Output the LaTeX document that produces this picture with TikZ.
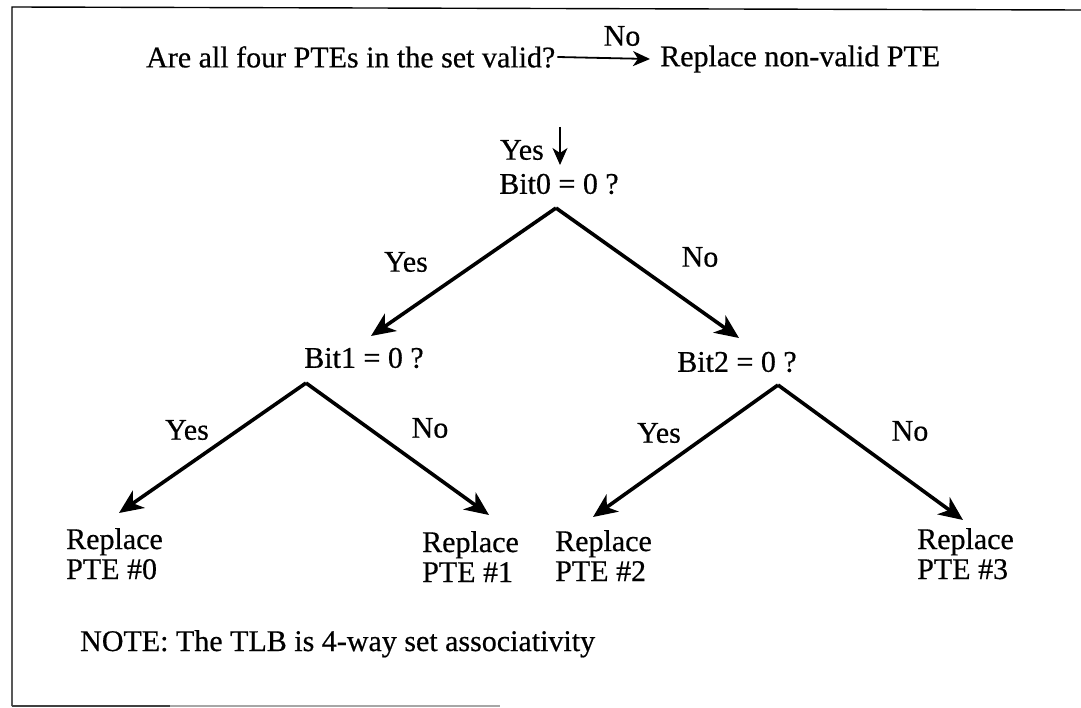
\documentclass[tikz,border=0pt]{standalone}
\usepackage{fontspec}
\setmainfont{Liberation Serif}[FakeBold=0.5]
\usetikzlibrary{arrows.meta}
\begin{document}
\begin{tikzpicture}[x=1pt,y=-1pt,
  txt/.style={inner sep=0pt,font=\fontsize{30}{30}\selectfont},
  leaf/.style={txt,anchor=north west,align=left},
  branch/.style={line width=3.6pt,-{Stealth[length=24pt,width=21pt,inset=7pt]}},
  thin arrow/.style={line width=1.8pt,-{Stealth[length=17pt,width=15pt,inset=5pt]}},
  frame/.style={line width=1.4pt}]
\useasboundingbox (0,0) rectangle (1081,708);
\fill[white] (0,0) rectangle (1081,708);

% open frame
\draw[frame] (12,706) -- (12,7) -- (1081,10);
\draw[frame,black!75] (12,706) -- (170,706);
\draw[frame,black!35] (170,706) -- (500,706);

% top question
\node[txt,anchor=west] (q0) at (146,57) {Are all four PTEs in the set valid?};
\node[txt,anchor=west] (rn) at (660,59) {Replace non-valid PTE};
\draw[thin arrow] ([xshift=2pt]q0.east) -- ([xshift=-10pt]rn.west);
\node[txt] (no0) at (622,36) {No};

% decision nodes
\node[txt] (b0) at (559,184) {Bit0 = 0 ?};
\node[txt] (b1) at (364,358) {Bit1 = 0 ?};
\node[txt] (b2) at (737,362) {Bit2 = 0 ?};

\coordinate (d0) at (560,127);
\coordinate (d1) at (560,165);
\draw[thin arrow] (d0) -- (d1);
\node[txt,anchor=east] (yes0) at (544,150) {Yes};

% branch points and arrow tips
\coordinate (a0) at (556,208);
\coordinate (a1) at (306,383);
\coordinate (a2) at (778,385);
\coordinate (t1) at (371,336);
\coordinate (t2) at (739,338);
\coordinate (t3) at (119,513);
\coordinate (t4) at (489,515);
\coordinate (t5) at (593,517);
\coordinate (t6) at (963,520);

\draw[branch] (a0) -- (t1);
\draw[branch] (a0) -- (t2);
\draw[branch] (a1) -- (t3);
\draw[branch] (a1) -- (t4);
\draw[branch] (a2) -- (t5);
\draw[branch] (a2) -- (t6);

% branch labels
\node[txt] (y1) at (406,262) {Yes};
\node[txt] (n1) at (700,257) {No};
\node[txt] (y2) at (187,430) {Yes};
\node[txt] (n2) at (430,428) {No};
\node[txt] (y3) at (659,433) {Yes};
\node[txt] (n3) at (910,431) {No};

% leaves
\node[leaf] (r0) at (66,528) {Replace\\PTE \#0};
\node[leaf] (r1) at (422,531) {Replace\\PTE \#1};
\node[leaf] (r2) at (555,530) {Replace\\PTE \#2};
\node[leaf] (r3) at (917,528) {Replace\\PTE \#3};

% footnote
\node[txt,anchor=base west] (note) at (80,651) {NOTE: The TLB is 4-way set associativity};
\end{tikzpicture}
\end{document}
